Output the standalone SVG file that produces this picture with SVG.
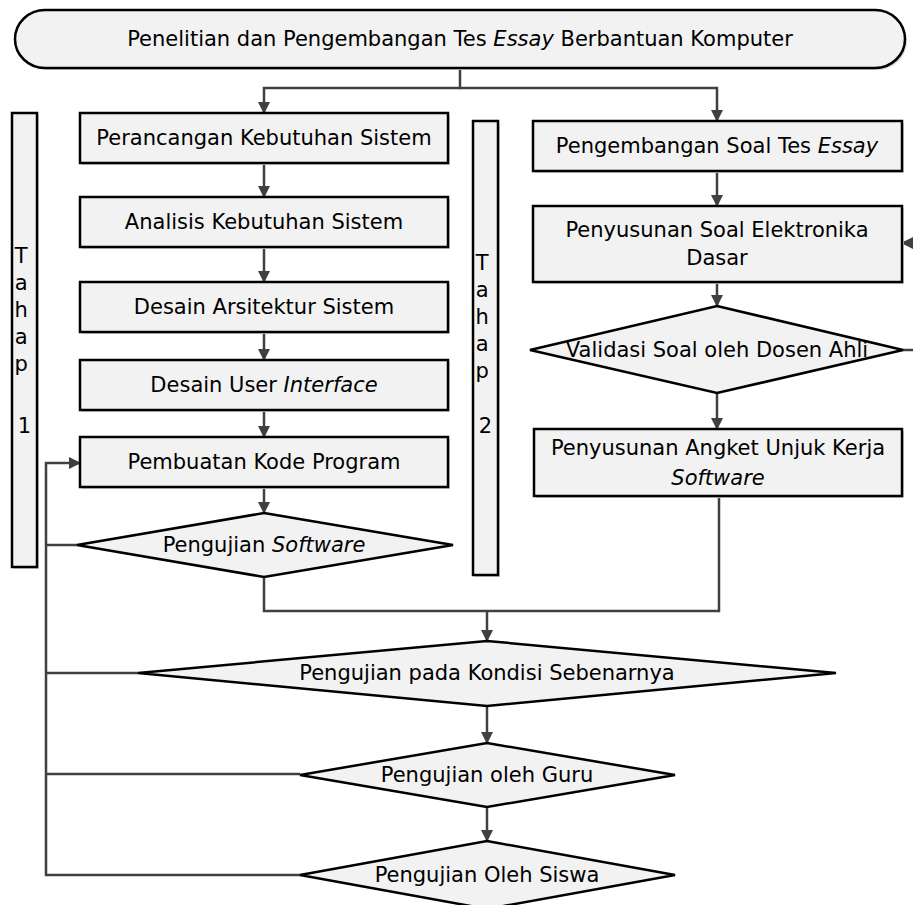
<svg xmlns="http://www.w3.org/2000/svg" width="913" height="905" viewBox="0 0 913 905">
  <style>
    .box { fill: #f2f2f2; stroke: #000; stroke-width: 2.5; }
    .shadow { fill: #d4d4d4; }
    .lbl { font-family: "DejaVu Sans", Verdana, sans-serif; font-size: 21px; fill: #000; text-anchor: middle; }
    .it { font-style: italic; }
    .conn { fill: none; stroke: #404040; stroke-width: 2.5; }
  </style>
  <defs>
    <marker id="arrow" viewBox="0 0 12 12" refX="11" refY="6" markerWidth="12" markerHeight="12" markerUnits="userSpaceOnUse" orient="auto">
      <path d="M0,0 L12,6 L0,12 Z" fill="#404040"/>
    </marker>
  </defs>

  <rect width="913" height="905" fill="#fff"/>

  <!-- connectors -->
  <g id="connectors" class="conn">
    <path d="M460,68 V88 H264 V113" marker-end="url(#arrow)"/>
    <path d="M460,88 H717 V121" marker-end="url(#arrow)"/>
    <path d="M264,163 V197" marker-end="url(#arrow)"/>
    <path d="M264,247 V282" marker-end="url(#arrow)"/>
    <path d="M264,332 V360" marker-end="url(#arrow)"/>
    <path d="M264,410 V437" marker-end="url(#arrow)"/>
    <path d="M264,487 V513" marker-end="url(#arrow)"/>
    <path d="M717,171 V206" marker-end="url(#arrow)"/>
    <path d="M717,282 V306" marker-end="url(#arrow)"/>
    <path d="M717,393 V429" marker-end="url(#arrow)"/>
    <path d="M903,350 H918 V243 H902" marker-end="url(#arrow)"/>
    <path d="M264,577 V611 H719 V496"/>
    <path d="M487,611 V641" marker-end="url(#arrow)"/>
    <path d="M487,706 V743" marker-end="url(#arrow)"/>
    <path d="M487,807 V841" marker-end="url(#arrow)"/>
    <path d="M300,875 H46 V463 H80" marker-end="url(#arrow)"/>
    <path d="M77,545 H46"/>
    <path d="M138,673 H46"/>
    <path d="M300,774 H46"/>
  </g>

  <!-- start / title -->
  <g id="title">
    <rect x="17" y="12" width="890" height="58" rx="30" ry="29" class="shadow"/>
    <rect x="15" y="10" width="890" height="58" rx="30" ry="29" class="box"/>
    <text x="460" y="46" class="lbl">Penelitian dan Pengembangan Tes <tspan class="it">Essay</tspan> Berbantuan Komputer</text>
  </g>

  <!-- phase bars -->
  <g id="tahap1">
    <rect x="14" y="115" width="25" height="454" class="shadow"/>
    <rect x="12" y="113" width="25" height="454" class="box"/>
    <text class="lbl" x="24.5">
      <tspan x="24.5" y="263">T</tspan>
      <tspan x="24.5" y="290">a</tspan>
      <tspan x="24.5" y="317">h</tspan>
      <tspan x="24.5" y="344">a</tspan>
      <tspan x="24.5" y="371">p</tspan>
      <tspan x="24.5" y="433">1</tspan>
    </text>
  </g>
  <g id="tahap2">
    <rect x="475" y="123" width="25" height="454" class="shadow"/>
    <rect x="473" y="121" width="25" height="454" class="box"/>
    <text class="lbl" x="485.5">
      <tspan x="485.5" y="270">T</tspan>
      <tspan x="485.5" y="297">a</tspan>
      <tspan x="485.5" y="324">h</tspan>
      <tspan x="485.5" y="351">a</tspan>
      <tspan x="485.5" y="378">p</tspan>
      <tspan x="485.5" y="433">2</tspan>
    </text>
  </g>

  <!-- phase 1 steps -->
  <g id="perancangan">
    <rect x="82" y="115" width="368" height="50" class="shadow"/>
    <rect x="80" y="113" width="368" height="50" class="box"/>
    <text x="264" y="145" class="lbl">Perancangan Kebutuhan Sistem</text>
  </g>
  <g id="analisis">
    <rect x="82" y="199" width="368" height="50" class="shadow"/>
    <rect x="80" y="197" width="368" height="50" class="box"/>
    <text x="264" y="229" class="lbl">Analisis Kebutuhan Sistem</text>
  </g>
  <g id="arsitektur">
    <rect x="82" y="284" width="368" height="50" class="shadow"/>
    <rect x="80" y="282" width="368" height="50" class="box"/>
    <text x="264" y="314" class="lbl">Desain Arsitektur Sistem</text>
  </g>
  <g id="interface">
    <rect x="82" y="362" width="368" height="50" class="shadow"/>
    <rect x="80" y="360" width="368" height="50" class="box"/>
    <text x="264" y="392" class="lbl">Desain User <tspan class="it">Interface</tspan></text>
  </g>
  <g id="kode">
    <rect x="82" y="439" width="368" height="50" class="shadow"/>
    <rect x="80" y="437" width="368" height="50" class="box"/>
    <text x="264" y="469" class="lbl">Pembuatan Kode Program</text>
  </g>
  <g id="uji-software">
    <polygon points="264,513 453,545 264,577 77,545" class="box"/>
    <text x="264" y="552" class="lbl">Pengujian <tspan class="it">Software</tspan></text>
  </g>

  <!-- phase 2 steps -->
  <g id="soal-essay">
    <rect x="535" y="123" width="369" height="50" class="shadow"/>
    <rect x="533" y="121" width="369" height="50" class="box"/>
    <text x="717" y="153" class="lbl">Pengembangan Soal Tes <tspan class="it">Essay</tspan></text>
  </g>
  <g id="soal-elektronika">
    <rect x="535" y="208" width="369" height="76" class="shadow"/>
    <rect x="533" y="206" width="369" height="76" class="box"/>
    <text class="lbl"><tspan x="717" y="237">Penyusunan Soal Elektronika</tspan><tspan x="717" y="265">Dasar</tspan></text>
  </g>
  <g id="validasi">
    <polygon points="717,306 903,350 717,393 530,350" class="box"/>
    <text x="717" y="357" class="lbl">Validasi Soal oleh Dosen Ahli</text>
  </g>
  <g id="angket">
    <rect x="536" y="431" width="368" height="67" class="shadow"/>
    <rect x="534" y="429" width="368" height="67" class="box"/>
    <text class="lbl"><tspan x="718" y="455">Penyusunan Angket Unjuk Kerja</tspan><tspan x="718" y="485" class="it">Software</tspan></text>
  </g>

  <!-- field tests -->
  <g id="kondisi">
    <polygon points="487,641 836,673 487,706 138,673" class="box"/>
    <text x="487" y="680" class="lbl">Pengujian pada Kondisi Sebenarnya</text>
  </g>
  <g id="guru">
    <polygon points="487,743 675,775 487,807 300,775" class="box"/>
    <text x="487" y="782" class="lbl">Pengujian oleh Guru</text>
  </g>
  <g id="siswa">
    <polygon points="487,841 675,875 487,909 300,875" class="box"/>
    <text x="487" y="882" class="lbl">Pengujian Oleh Siswa</text>
  </g>
</svg>
